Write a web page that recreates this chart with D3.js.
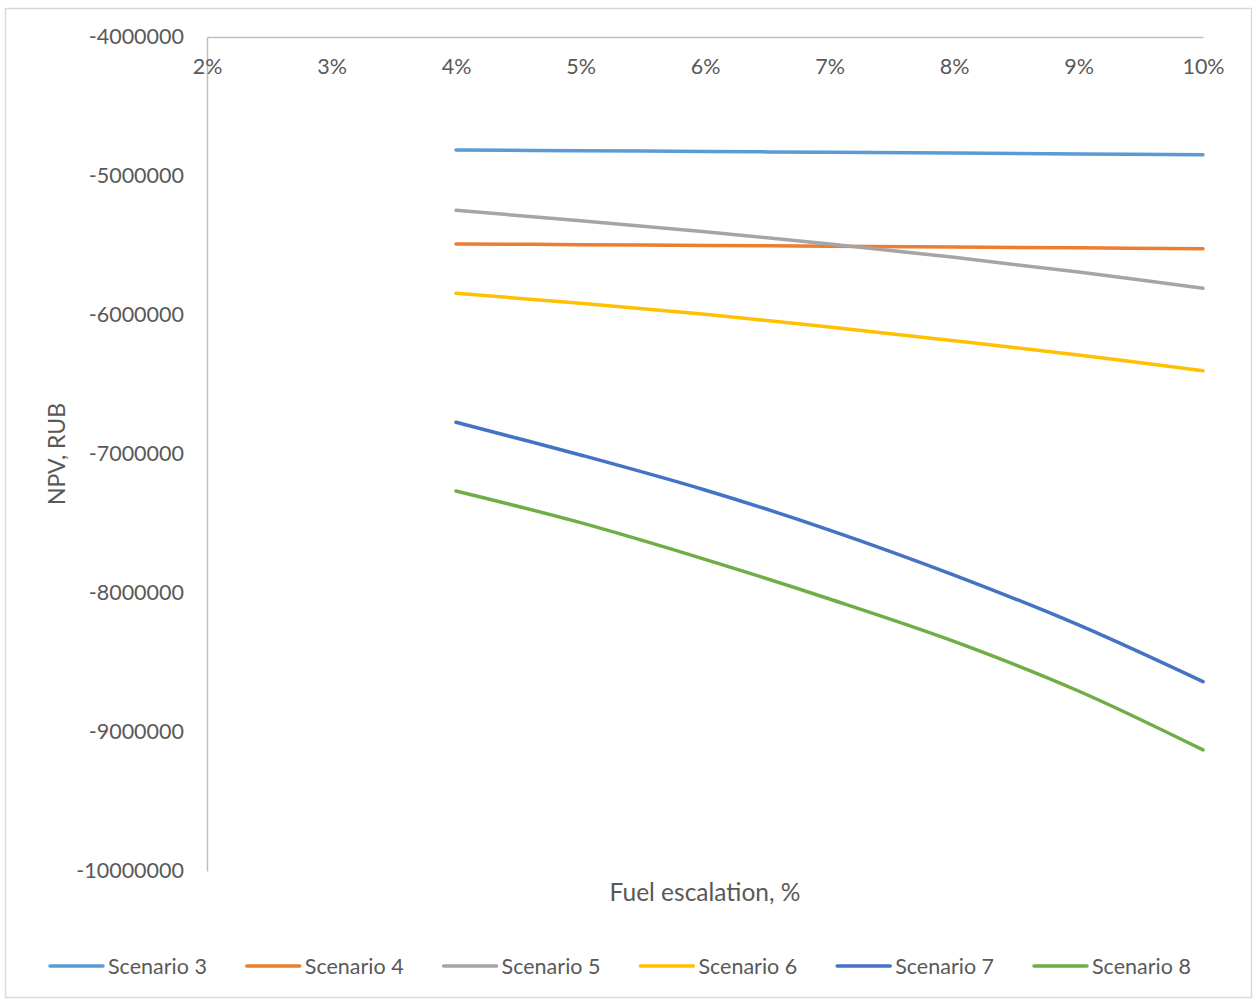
<!DOCTYPE html>
<html>
<head>
<meta charset="utf-8">
<script src="https://cdn.jsdelivr.net/npm/d3@7/dist/d3.min.js"></script>
<style>
  html, body { margin: 0; padding: 0; background: #fff; }
  svg { display: block; }
  text { font-family: Lato, "Open Sans", sans-serif; fill: #595959; }
</style>
</head>
<body>
<svg id="chart" width="1259" height="1000"></svg>
<script>
// Fuel escalation categories (x axis)
const categories = ["2%", "3%", "4%", "5%", "6%", "7%", "8%", "9%", "10%"];

// NPV, RUB per scenario; null where no value was computed
const scenario3 = [null, null, -4813000, -4818000, -4824000, -4829000, -4835000, -4841000, -4847000];
const scenario4 = [null, null, -5489000, -5494000, -5500000, -5505000, -5511000, -5517000, -5523000];
const scenario5 = [null, null, -5247000, -5322000, -5401000, -5489000, -5585000, -5691000, -5808000];
const scenario6 = [null, null, -5844000, -5916000, -5995000, -6086000, -6185000, -6288000, -6401000];
const scenario7 = [null, null, -6772000, -7007000, -7259000, -7547000, -7871000, -8230000, -8638000];
const scenario8 = [null, null, -7266000, -7494000, -7758000, -8043000, -8348000, -8705000, -9129000];

const seriesNames = ["Scenario 3", "Scenario 4", "Scenario 5", "Scenario 6", "Scenario 7", "Scenario 8"];
const seriesValues = [scenario3, scenario4, scenario5, scenario6, scenario7, scenario8];
const seriesColors = ["#5B9BD5", "#ED7D31", "#A5A5A5", "#FFC000", "#4472C4", "#70AD47"];

const yTicks = [-4000000, -5000000, -6000000, -7000000, -8000000, -9000000, -10000000];

const svg = d3.select("#chart");

// chart frame
svg.append("rect")
  .attr("x", 5.5).attr("y", 8.5)
  .attr("width", 1246).attr("height", 989)
  .attr("fill", "#fff")
  .attr("stroke", "#D9D9D9")
  .attr("stroke-width", 1.5);

const plot = { left: 207, right: 1203, top: 37, bottom: 871 };

const x = d3.scalePoint()
  .domain(categories)
  .range([plot.left, plot.right])
  .padding(0);

const y = d3.scaleLinear()
  .domain([-10000000, -4000000])
  .range([plot.bottom, plot.top]);

// plain integer labels with an ASCII hyphen as the sign
const intFormat = d => (d < 0 ? "-" : "") + Math.abs(Math.round(d)).toString();

// y axis (line on the left, labels outside)
const yAxis = d3.axisLeft(y)
  .tickValues(yTicks)
  .tickFormat(intFormat)
  .tickSize(0)
  .tickPadding(23);

const gy = svg.append("g")
  .attr("transform", `translate(${plot.left},0)`)
  .call(yAxis);
gy.select(".domain").attr("stroke", "#BFBFBF").attr("stroke-width", 1.5);
gy.selectAll("text")
  .attr("font-size", 21.5)
  .style("font-family", "Lato, sans-serif")
  .attr("fill", "#595959");

// x axis along the top edge (crosses at the y maximum), labels below the line
const xAxis = d3.axisBottom(x)
  .tickSize(0)
  .tickPadding(22);

const gx = svg.append("g")
  .attr("transform", `translate(0,${plot.top})`)
  .call(xAxis);
gx.select(".domain").attr("stroke", "#BFBFBF").attr("stroke-width", 1.5);
gx.selectAll("text")
  .attr("font-size", 21.5)
  .style("font-family", "Lato, sans-serif")
  .attr("fill", "#595959");

// series lines (smoothed)
const line = d3.line()
  .defined(d => d.v !== null)
  .x(d => x(d.c))
  .y(d => y(d.v))
  .curve(d3.curveCatmullRom.alpha(0));

seriesValues.forEach((vals, i) => {
  const pts = categories.map((c, j) => ({ c, v: vals[j] }));
  svg.append("path")
    .datum(pts)
    .attr("fill", "none")
    .attr("stroke", seriesColors[i])
    .attr("stroke-width", 3.5)
    .attr("stroke-linecap", "round")
    .attr("d", line);
});

// axis titles
svg.append("text")
  .attr("transform", `translate(65,${(plot.top + plot.bottom) / 2}) rotate(-90)`)
  .attr("text-anchor", "middle")
  .attr("font-size", 23)
  .text("NPV, RUB");

svg.append("text")
  .attr("x", 705)
  .attr("y", 901)
  .attr("text-anchor", "middle")
  .attr("font-size", 24.5)
  .text("Fuel escalation, %");

// legend
const legendX0 = 108, legendStep = 196.8, legendY = 966;
const legend = svg.append("g");
seriesNames.forEach((name, i) => {
  const tx = legendX0 + i * legendStep;
  legend.append("line")
    .attr("x1", tx - 58).attr("x2", tx - 5)
    .attr("y1", legendY).attr("y2", legendY)
    .attr("stroke", seriesColors[i])
    .attr("stroke-width", 3.5)
    .attr("stroke-linecap", "round");
  legend.append("text")
    .attr("x", tx)
    .attr("y", legendY)
    .attr("dy", "0.35em")
    .attr("font-size", 21.5)
    .text(name);
});
</script>
</body>
</html>
